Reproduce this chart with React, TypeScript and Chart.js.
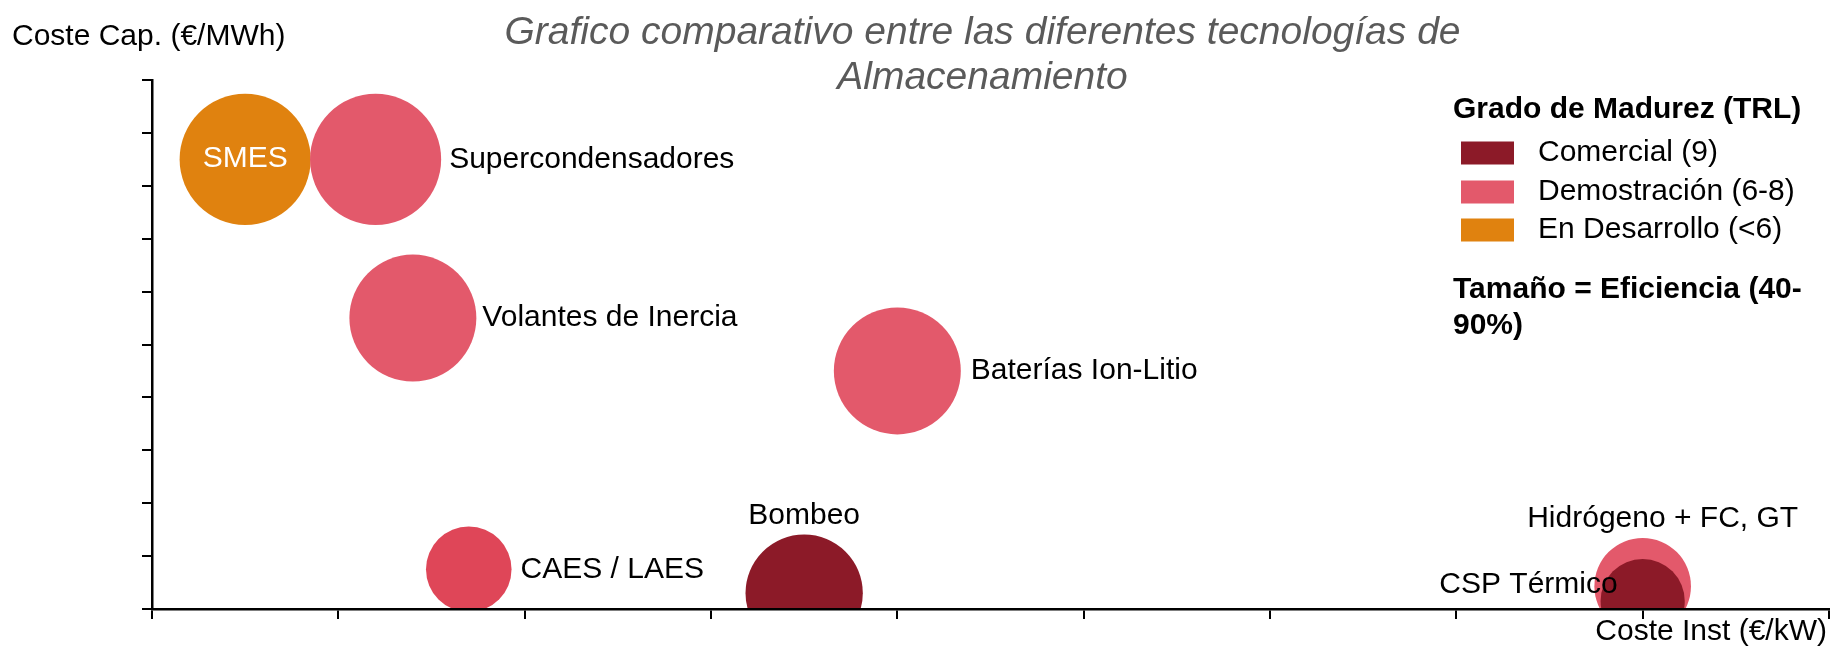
import React, { useEffect, useRef } from 'react';
import { Chart, registerables } from 'chart.js';

Chart.register(...registerables);

// ---------- Data ----------
const technologies = [
  'SMES',
  'Supercondensadores',
  'Volantes de Inercia',
  'Baterías Ion-Litio',
  'CAES / LAES',
  'Bombeo',
  'Hidrógeno + FC, GT',
  'CSP Térmico',
];
// Coste de instalación (€/kW) – relative axis units (no tick labels in original)
const costeInstalacion = [0.5, 1.2, 1.4, 4.0, 1.7, 3.5, 8.0, 8.0];
// Coste de capacidad (€/MWh) – relative axis units
const costeCapacidad = [8.5, 8.5, 5.5, 4.5, 0.75, 0.3, 0.43, 0.15];
// Eficiencia (%) -> bubble size
const eficiencia = [95, 95, 92, 92, 62, 85, 70, 61];
// Grado de madurez
const madurez = [
  'Desarrollo',
  'Demostración',
  'Demostración',
  'Demostración',
  'Demostración',
  'Comercial',
  'Demostración',
  'Comercial',
];

const grupoClaves = ['Comercial', 'Demostración', 'Desarrollo'];
const grupoEtiquetas = ['Comercial (9)', 'Demostración (6-8)', 'En Desarrollo (<6)'];
const grupoColores = ['#8C1A28', '#E3596B', '#E0820F'];

const xTickValues = [0, 1, 2, 3, 4, 5, 6, 7, 8, 9];
const yTickValues = [0, 1, 2, 3, 4, 5, 6, 7, 8, 9, 10];

const tituloLineas = [
  'Grafico comparativo entre las diferentes tecnologías de',
  'Almacenamiento',
];
const tituloEjeY = 'Coste Cap. (€/MWh)';
const tituloEjeX = 'Coste Inst (€/kW)';
const leyendaTitulo = 'Grado de Madurez (TRL)';
const notaTamano = ['Tamaño = Eficiencia (40-', '90%)'];

// ---------- Styles ----------
const FONT = '"Liberation Sans", Arial, Helvetica, sans-serif';
const RADIUS_PER_PERCENT = 0.69;
const colorOverride: Record<string, string> = { 'CAES / LAES': '#DF4658' };

type Placement = { mode: 'inside' | 'right' | 'top' | 'left'; dx: number; dy: number };
const labelPlacement: Record<string, Placement> = {
  'SMES': { mode: 'inside', dx: 0, dy: -1 },
  'Supercondensadores': { mode: 'right', dx: 8, dy: 0 },
  'Volantes de Inercia': { mode: 'right', dx: 6, dy: 0 },
  'Baterías Ion-Litio': { mode: 'right', dx: 10, dy: 0 },
  'CAES / LAES': { mode: 'right', dx: 9, dy: 0 },
  'Bombeo': { mode: 'top', dx: 0, dy: -19 },
  'Hidrógeno + FC, GT': { mode: 'top', dx: 20, dy: -19 },
  'CSP Térmico': { mode: 'left', dx: -25, dy: -16 },
};

const overlayPlugin = {
  id: 'overlayTexts',
  afterDatasetsDraw(chart: any) {
    const ctx = chart.ctx as CanvasRenderingContext2D;
    ctx.save();
    ctx.textBaseline = 'middle';
    ctx.font = `30px ${FONT}`;
    chart.data.datasets.forEach((ds: any, di: number) => {
      const meta = chart.getDatasetMeta(di);
      meta.data.forEach((el: any, i: number) => {
        const name = ds.data[i].name as string;
        const p = labelPlacement[name];
        const r = el.options.radius;
        if (!p) return;
        if (p.mode === 'inside') {
          ctx.fillStyle = '#FFFFFF';
          ctx.textAlign = 'center';
          ctx.fillText(name, el.x + p.dx, el.y + p.dy);
        } else if (p.mode === 'right') {
          ctx.fillStyle = '#000000';
          ctx.textAlign = 'left';
          ctx.fillText(name, el.x + r + p.dx, el.y + p.dy);
        } else if (p.mode === 'top') {
          ctx.fillStyle = '#000000';
          ctx.textAlign = 'center';
          ctx.fillText(name, el.x + p.dx, el.y - r + p.dy);
        } else {
          ctx.fillStyle = '#000000';
          ctx.textAlign = 'right';
          ctx.fillText(name, el.x + p.dx, el.y + p.dy);
        }
      });
    });
    ctx.restore();
  },
  afterDraw(chart: any) {
    const ctx = chart.ctx as CanvasRenderingContext2D;
    const area = chart.chartArea;
    ctx.save();
    ctx.textBaseline = 'middle';

    // Title
    ctx.fillStyle = '#5A5A5A';
    ctx.textAlign = 'center';
    ctx.font = `italic 39px ${FONT}`;
    const cx = (area.left + area.right) / 2 - 8;
    ctx.fillText(tituloLineas[0], cx, 33);
    ctx.fillText(tituloLineas[1], cx, 78);

    // Axis titles
    ctx.fillStyle = '#000000';
    ctx.font = `30px ${FONT}`;
    ctx.textAlign = 'left';
    ctx.fillText(tituloEjeY, 12, 37);
    ctx.textAlign = 'right';
    ctx.fillText(tituloEjeX, area.right - 2, 632);

    // Legend
    const lx = 1453;
    ctx.textAlign = 'left';
    ctx.font = `bold 30px ${FONT}`;
    ctx.fillText(leyendaTitulo, lx, 110);
    const rows = [153, 192, 230];
    grupoEtiquetas.forEach((lab, i) => {
      ctx.fillStyle = grupoColores[i];
      ctx.fillRect(lx + 8, rows[i] - 11.5, 53, 23);
      ctx.fillStyle = '#000000';
      ctx.font = `30px ${FONT}`;
      ctx.fillText(lab, lx + 85, rows[i]);
    });
    ctx.font = `bold 30px ${FONT}`;
    ctx.fillText(notaTamano[0], lx, 290);
    ctx.fillText(notaTamano[1], lx, 326);
    ctx.restore();
  },
};

function buildDatasets() {
  return grupoClaves.map((g, gi) => {
    const idx = technologies.map((_, i) => i).filter((i) => madurez[i] === g);
    return {
      label: grupoEtiquetas[gi],
      data: idx.map((i) => ({
        x: costeInstalacion[i],
        y: costeCapacidad[i],
        r: eficiencia[i] * RADIUS_PER_PERCENT,
        name: technologies[i],
      })),
      backgroundColor: idx.map((i) => colorOverride[technologies[i]] || grupoColores[gi]),
      borderWidth: 0,
      hoverBorderWidth: 0,
      clip: 0,
    };
  });
}

export default function App() {
  const canvasRef = useRef<HTMLCanvasElement | null>(null);

  useEffect(() => {
    const canvas = canvasRef.current;
    if (!canvas) return;
    const axisCommon = {
      type: 'linear' as const,
      ticks: { display: false, stepSize: 1 },
      grid: {
        display: true,
        drawOnChartArea: false,
        drawTicks: true,
        tickLength: 10,
        color: '#000000',
        lineWidth: 2,
        z: 1,
      },
      border: { display: true, color: '#000000', width: 2.5, z: 1 },
    };
    const chart = new Chart(canvas, {
      type: 'bubble',
      data: { datasets: buildDatasets() as any },
      options: {
        responsive: false,
        animation: false,
        devicePixelRatio: 1,
        events: [],
        layout: { autoPadding: false, padding: { left: 142, right: 1, top: 80, bottom: 28 } },
        plugins: {
          legend: { display: false },
          title: { display: false },
          tooltip: { enabled: false },
        },
        scales: {
          x: {
            ...axisCommon,
            min: xTickValues[0],
            max: xTickValues[xTickValues.length - 1],
            afterBuildTicks: (scale: any) => {
              scale.ticks = xTickValues.map((v) => ({ value: v }));
            },
          },
          y: {
            ...axisCommon,
            min: yTickValues[0],
            max: yTickValues[yTickValues.length - 1],
            afterBuildTicks: (scale: any) => {
              scale.ticks = yTickValues.map((v) => ({ value: v }));
            },
          },
        } as any,
      },
      plugins: [overlayPlugin],
    });
    return () => chart.destroy();
  }, []);

  return (
    <div style={{ position: 'fixed', left: 0, top: 0, width: 1830, height: 647, background: '#ffffff' }}>
      <canvas ref={canvasRef} width={1830} height={647} style={{ display: 'block' }} />
    </div>
  );
}
